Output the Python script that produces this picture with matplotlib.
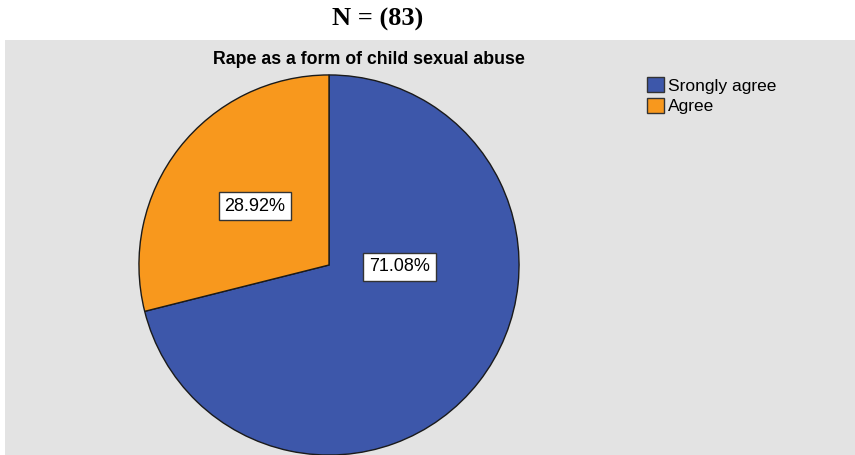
import matplotlib
matplotlib.use("Agg")
import matplotlib.pyplot as plt
import numpy as np
from matplotlib.patches import Rectangle, Patch

categories = ["Srongly agree", "Agree"]
percents = [71.08, 28.92]
colors = ["#3d57aa", "#f8981d"]
n_total = 83

plt.rcParams["font.family"] = ["Liberation Sans", "DejaVu Sans"]

fig = plt.figure(figsize=(8.55, 4.55), dpi=100, facecolor="white")

# grey chart panel below the N caption
fig.patches.append(Rectangle((5 / 855, 0), 850 / 855, 415 / 455,
                             transform=fig.transFigure, facecolor="#e3e3e3",
                             edgecolor="none", zorder=-10))

fig.text(378 / 855, 1 - 19 / 455, f"N = ({n_total})", ha="center", va="center",
         family="Liberation Serif", fontweight="bold", fontsize=19)
fig.text(369 / 855, 1 - 60 / 455, "Rape as a form of child sexual abuse",
         ha="center", va="center", fontweight="bold", fontsize=12.8)

ax = fig.add_axes([138 / 855, -1 / 455, 382 / 855, 382 / 455])
ax.set_facecolor("none")
wedges, _ = ax.pie(percents, colors=colors, startangle=90, counterclock=False,
                   wedgeprops=dict(edgecolor="#1a1a1a", linewidth=1.0))
ax.set_xlim(-1.005, 1.005)
ax.set_ylim(-1.005, 1.005)
ax.set_aspect("equal")
ax.axis("off")

# percentage boxes
label_pos = [(0.37, -0.01), (-0.39, 0.31)]
for pct, (x, y) in zip(percents, label_pos):
    ax.text(x, y, f"{pct:.2f}%", ha="center", va="center", fontsize=13,
            bbox=dict(boxstyle="square,pad=0.32", facecolor="white",
                      edgecolor="#333333", linewidth=1.0))

handles = [Patch(facecolor=c, edgecolor="#333333", linewidth=1.0) for c in colors]
fig.legend(handles, categories, loc="upper left",
           bbox_to_anchor=(635 / 855, 1 - 65 / 455), frameon=False,
           fontsize=12.5, handlelength=0.95, handleheight=0.95,
           handletextpad=0.25, labelspacing=0.25, borderpad=0.2)

fig.savefig("out.png", dpi=100, facecolor="white")
